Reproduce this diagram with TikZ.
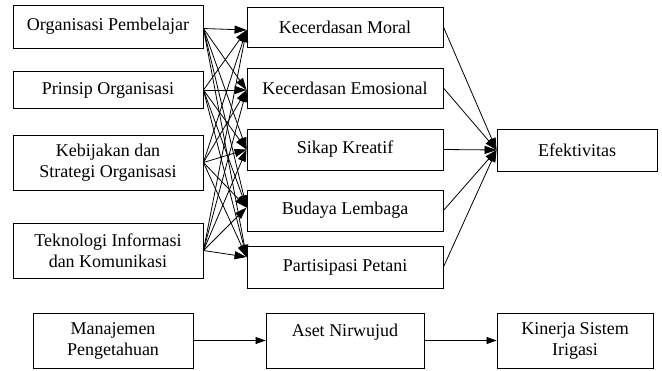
\documentclass[tikz,border=0pt]{standalone}
\usepackage{fontspec}
\setmainfont{Liberation Serif}
\usetikzlibrary{arrows.meta}
\begin{document}
\begin{tikzpicture}[x=1pt,y=-1pt,
  box/.style={draw,line width=0.9pt,align=center,inner sep=0pt,
    font=\fontsize{18}{21}\selectfont\rmfamily},
  arr/.style={line width=0.8pt,-{Triangle[length=12pt,width=8pt]}}]
\useasboundingbox (0,0) rectangle (662,370);
% left column
\node[box,minimum width=190pt,minimum height=43pt] (L1) at (108,26.5) {Organisasi Pembelajar};
\node[box,minimum width=190pt,minimum height=37pt] (L2) at (108,90) {Prinsip Organisasi};
\node[box,minimum width=190pt,minimum height=55pt] (L3) at (108,162.5) {Kebijakan dan\\Strategi Organisasi};
\node[box,minimum width=190pt,minimum height=55pt] (L4) at (108,250.5) {Teknologi Informasi\\dan Komunikasi};
% middle column
\node[box,minimum width=196pt,minimum height=40pt] (M1) at (345,27) {Kecerdasan Moral};
\node[box,minimum width=196pt,minimum height=40pt] (M2) at (345,88) {Kecerdasan Emosional};
\node[box,minimum width=196pt,minimum height=41pt] (M3) at (345,149.5) {Sikap Kreatif};
\node[box,minimum width=196pt,minimum height=41pt] (M4) at (345,210.5) {Budaya Lembaga};
\node[box,minimum width=196pt,minimum height=42pt] (M5) at (345,267) {Partisipasi Petani};
% right
\node[box,minimum width=160pt,minimum height=42pt] (E) at (577,150) {Efektivitas};
% bottom row
\node[box,minimum width=160pt,minimum height=55pt] (B1) at (113,340.5) {Manajemen\\Pengetahuan};
\node[box,minimum width=158pt,minimum height=55pt] (B2) at (345,340.5) {Aset Nirwujud\\~};
\node[box,minimum width=156pt,minimum height=55pt] (B3) at (575,340.5) {Kinerja Sistem\\Irigasi};
% entry points
\coordinate (L1o) at ([yshift=-2pt]L1.east);
\coordinate (M1i) at ([yshift=-3pt]M1.west);
\coordinate (M2i) at ([yshift=-2pt]M2.west);
\coordinate (M3i) at (M3.west);
\coordinate (M4i) at ([yshift=3pt]M4.west);
\coordinate (M5i) at ([yshift=10pt]M5.west);
\foreach \s in {L1o,L2.east,L3.east,L4.east}
  \foreach \t in {M1i,M2i,M3i,M4i,M5i}
    \draw[arr] (\s) -- (\t);
\foreach \m in {M1,M2,M3,M4,M5}
  \draw[arr] (\m.east) -- (E.west);
\draw[arr,-{Triangle[length=10pt,width=7pt]}] (B1) -- (B2);
\draw[arr,-{Triangle[length=10pt,width=7pt]}] (B2) -- (B3);
\end{tikzpicture}
\end{document}
